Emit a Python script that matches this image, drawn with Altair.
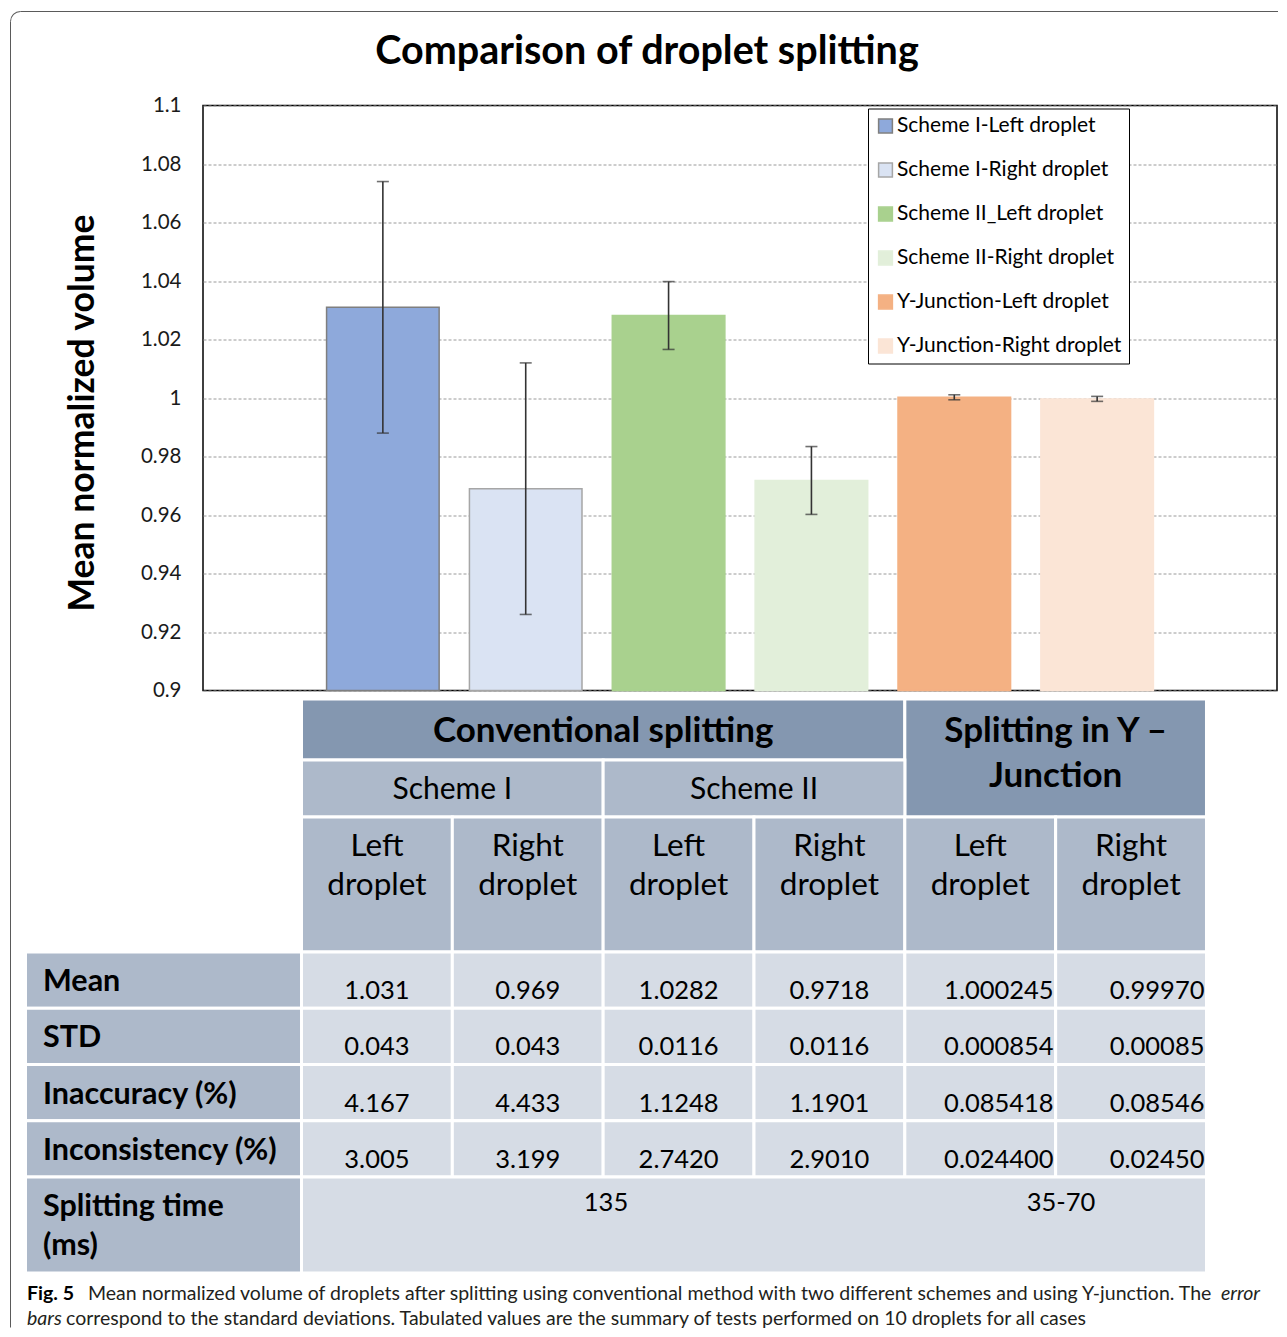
import altair as alt
import pandas as pd

# ---------------- data ----------------
bar_labels = ["Scheme I-Left droplet", "Scheme I-Right droplet", "Scheme II_Left droplet",
              "Scheme II-Right droplet", "Y-Junction-Left droplet", "Y-Junction-Right droplet"]
means = [1.031, 0.969, 1.0282, 0.9718, 1.000245, 0.99970]
stds = [0.043, 0.043, 0.0116, 0.0116, 0.000854, 0.00085]
fill_colors = ["#8EA9DB", "#DAE3F3", "#A9D18E", "#E2EFDA", "#F4B183", "#FBE5D6"]
stroke_colors = ["#7F7F7F", "#A6A6A6", "#A9D18E", "#E2EFDA", "#F4B183", "#FBE5D6"]
y_ticks = [0.9, 0.92, 0.94, 0.96, 0.98, 1.0, 1.02, 1.04, 1.06, 1.08, 1.1]

group_headers = ["Conventional splitting", "Splitting in Y \u2013\nJunction"]
scheme_headers = ["Scheme I", "Scheme II"]
col_headers = ["Left\ndroplet", "Right\ndroplet"] * 3
row_labels = ["Mean", "STD", "Inaccuracy (%)", "Inconsistency (%)", "Splitting time\n(ms)"]
table_values = [
    ["1.031", "0.969", "1.0282", "0.9718", "1.000245", "0.99970"],
    ["0.043", "0.043", "0.0116", "0.0116", "0.000854", "0.00085"],
    ["4.167", "4.433", "1.1248", "1.1901", "0.085418", "0.08546"],
    ["3.005", "3.199", "2.7420", "2.9010", "0.024400", "0.02450"],
]
split_time = ["135", "35-70"]

title_text = "Comparison of droplet splitting"
y_title = "Mean normalized volume"
cap_bold = "Fig. 5"
cap_line1 = ("Mean normalized volume of droplets after splitting using conventional method "
             "with two different schemes and using Y-junction. The")
cap_it1 = "error"
cap_it2 = "bars"
cap_line2 = ("correspond to the standard deviations. Tabulated values are the summary of tests "
             "performed on 10 droplets for all cases")

FONT = "Lato"

# ---------------- layout (page pixels, mapped by layout scales) ----------------
W, H = 1074, 585
PX0, PY0 = 203, 105
LX = alt.Scale(domain=[PX0, PX0 + W], nice=False, zero=False)
LY = alt.Scale(domain=[PY0, PY0 + H], nice=False, zero=False, reverse=True)

col_w = 150.83
col_edges = [301.5 + col_w * i for i in range(7)]
label_left = 25.5
row_edges = [698.5, 759.5, 816.5, 951.5, 1007.75, 1064.0, 1120.25, 1176.5, 1272.5]

DARK, MID, LIGHT = "#8497B0", "#ADB9CA", "#D6DCE5"

cells = []
def cell(x0, x1, y0, y1, tone):
    cells.append(dict(x0=x0, x1=x1, y0=y0, y1=y1, tone=tone))

cell(col_edges[0], col_edges[4], row_edges[0], row_edges[1], DARK)
cell(col_edges[4], col_edges[6], row_edges[0], row_edges[2], DARK)
cell(col_edges[0], col_edges[2], row_edges[1], row_edges[2], MID)
cell(col_edges[2], col_edges[4], row_edges[1], row_edges[2], MID)
for i in range(6):
    cell(col_edges[i], col_edges[i + 1], row_edges[2], row_edges[3], MID)
for r in range(4):
    cell(label_left, col_edges[0], row_edges[3 + r], row_edges[4 + r], MID)
    for i in range(6):
        cell(col_edges[i], col_edges[i + 1], row_edges[3 + r], row_edges[4 + r], LIGHT)
cell(label_left, col_edges[0], row_edges[7], row_edges[8], MID)
cell(col_edges[0], col_edges[6], row_edges[7], row_edges[8], LIGHT)
cells_df = pd.DataFrame(cells)

def mid(a, b):
    return (a + b) / 2

# text groups (multi-line texts are anchored at their first line)
big_hdr = pd.DataFrame([
    dict(x=mid(col_edges[0], col_edges[4]), y=730, t=group_headers[0]),
    dict(x=mid(col_edges[4], col_edges[6]), y=730, t=group_headers[1]),
])
scheme_df = pd.DataFrame([
    dict(x=mid(col_edges[0], col_edges[2]), y=789, t=scheme_headers[0]),
    dict(x=mid(col_edges[2], col_edges[4]), y=789, t=scheme_headers[1]),
])
colhdr_df = pd.DataFrame([
    dict(x=mid(col_edges[i], col_edges[i + 1]), y=846, t=col_headers[i]) for i in range(6)
])
rowlab_df = pd.DataFrame(
    [dict(x=43, y=mid(row_edges[3 + r], row_edges[4 + r]) + 2, t=row_labels[r]) for r in range(4)]
    + [dict(x=43, y=1206, t=row_labels[4])]
)
val_center = pd.DataFrame([
    dict(x=mid(col_edges[i], col_edges[i + 1]), y=mid(row_edges[3 + r], row_edges[4 + r]) + 11,
         t=table_values[r][i])
    for r in range(4) for i in range(4)
] + [
    dict(x=606, y=1202, t=split_time[0]),
    dict(x=1061, y=1202, t=split_time[1]),
])
val_right = pd.DataFrame([
    dict(x=col_edges[i + 1] - 2, y=mid(row_edges[3 + r], row_edges[4 + r]) + 11, t=table_values[r][i])
    for r in range(4) for i in range(4, 6)
])

# ---------------- bar chart ----------------
bars_df = pd.DataFrame({
    "label": bar_labels,
    "mean": means,
    "lo": [m - s for m, s in zip(means, stds)],
    "hi": [m + s for m, s in zip(means, stds)],
})

xband = alt.Scale(domain=bar_labels, paddingInner=0.212, paddingOuter=0.865)
yscale = alt.Scale(domain=[0.9, 1.1], nice=False, zero=False)

base = alt.Chart(bars_df)
bars = base.mark_bar(strokeWidth=1.5).encode(
    x=alt.X("label:N", scale=xband, axis=None, sort=bar_labels),
    y=alt.Y("mean:Q", scale=yscale,
            axis=alt.Axis(values=y_ticks, format="~g", title=y_title, grid=True,
                          gridDash=[3, 2], gridColor="#9A9A9A", gridWidth=1,
                          ticks=False, domain=False, labelPadding=22, labelFontSize=20.5,
                          labelColor="#1a1a1a", labelFont=FONT,
                          titleFont=FONT, titleFontSize=35.5, titleFontWeight="bold",
                          titleColor="black", titleAngle=-90, titleBaseline="middle",
                          titleAlign="center", titleX=82 - PX0, titleY=412 - PY0)),
    y2=alt.datum(0.9),
    fill=alt.Fill("label:N", scale=alt.Scale(domain=bar_labels, range=fill_colors),
                  legend=alt.Legend(title=None, orient="none", legendX=665, legendY=3,
                                    fillColor="white", strokeColor="black", padding=7,
                                    symbolType="square", symbolSize=190, symbolStrokeWidth=1.5,
                                    labelFontSize=21, labelFont=FONT, labelColor="black",
                                    rowPadding=22, labelOffset=1, labelLimit=400)),
    stroke=alt.Stroke("label:N", scale=alt.Scale(domain=bar_labels, range=stroke_colors)),
)
err = base.mark_rule(color="#333333", strokeWidth=1.6).encode(
    x=alt.X("label:N", scale=xband, axis=None, sort=bar_labels),
    y=alt.Y("lo:Q", scale=yscale),
    y2="hi:Q",
)
caps = base.transform_fold(["lo", "hi"], as_=["end", "v"]).mark_tick(
    color="#333333", thickness=1.6, size=12
).encode(
    x=alt.X("label:N", scale=xband, axis=None, sort=bar_labels),
    y=alt.Y("v:Q", scale=yscale),
)
data_layer = alt.layer(bars, err, caps)

# ---------------- table / title / caption / frame ----------------
def rect_layer(tone):
    return alt.Chart(cells_df[cells_df.tone == tone]).mark_rect(
        fill=tone, stroke="white", strokeWidth=3
    ).encode(
        x=alt.X("x0:Q", scale=LX, axis=None), x2="x1:Q",
        y=alt.Y("y0:Q", scale=LY, axis=None), y2="y1:Q",
    )

def text_layer(df, **kw):
    props = dict(font=FONT, color="black", baseline="middle", lineBreak="\n")
    props.update(kw)
    return alt.Chart(df).mark_text(**props).encode(
        x=alt.X("x:Q", scale=LX, axis=None),
        y=alt.Y("y:Q", scale=LY, axis=None),
        text="t:N",
    )

CAP_Y1, CAP_Y2, CAP_FS = 1293, 1318, 19.5
title_df = pd.DataFrame([dict(x=647, y=51, t=title_text)])
cap1a = pd.DataFrame([dict(x=27, y=CAP_Y1, t=cap_bold)])
cap1b = pd.DataFrame([dict(x=88, y=CAP_Y1, t=cap_line1)])
cap1c = pd.DataFrame([dict(x=1260, y=CAP_Y1, t=cap_it1)])
cap2a = pd.DataFrame([dict(x=27, y=CAP_Y2, t=cap_it2)])
cap2b = pd.DataFrame([dict(x=66, y=CAP_Y2, t=cap_line2)])

FRAME = "#5A5A5A"
frame_top = pd.DataFrame([dict(x0=20.5, x1=1278, y=11)])
frame_left = pd.DataFrame([dict(x=10.5, y0=21, y1=1327)])
frame_corner = pd.DataFrame([dict(x=20.5, y=21)])

CAPC = "#231f20"
layout_layers = [
    rect_layer(DARK), rect_layer(MID), rect_layer(LIGHT),
    text_layer(big_hdr, fontSize=35, fontWeight="bold", align="center", lineHeight=45),
    text_layer(scheme_df, fontSize=30, align="center"),
    text_layer(colhdr_df, fontSize=31.5, align="center", lineHeight=39),
    text_layer(rowlab_df, fontSize=30.5, fontWeight="bold", align="left", lineHeight=39),
    text_layer(val_center, fontSize=25.5, align="center"),
    text_layer(val_right, fontSize=25.5, align="right"),
    text_layer(title_df, fontSize=39.5, fontWeight="bold", align="center"),
    text_layer(cap1a, fontSize=CAP_FS, fontWeight="bold", align="left"),
    text_layer(cap1b, fontSize=CAP_FS, align="left", color=CAPC),
    text_layer(cap1c, fontSize=CAP_FS, fontStyle="italic", align="right", color=CAPC),
    text_layer(cap2a, fontSize=CAP_FS, fontStyle="italic", align="left", color=CAPC),
    text_layer(cap2b, fontSize=CAP_FS, align="left", color=CAPC),
    alt.Chart(frame_top).mark_rule(color=FRAME, strokeWidth=1).encode(
        x=alt.X("x0:Q", scale=LX, axis=None), x2="x1:Q",
        y=alt.Y("y:Q", scale=LY, axis=None)),
    alt.Chart(frame_left).mark_rule(color=FRAME, strokeWidth=1).encode(
        x=alt.X("x:Q", scale=LX, axis=None),
        y=alt.Y("y0:Q", scale=LY, axis=None), y2="y1:Q"),
    alt.Chart(frame_corner).mark_arc(color=FRAME, radius=10.5, radius2=9.5,
                                     theta=4.712389, theta2=6.283185).encode(
        x=alt.X("x:Q", scale=LX, axis=None),
        y=alt.Y("y:Q", scale=LY, axis=None)),
]
layout_layer = alt.layer(*layout_layers)

chart = alt.layer(data_layer, layout_layer).resolve_scale(
    x="independent", y="independent"
).properties(
    width=W, height=H,
    padding={"left": 2, "top": 2.5, "right": 0, "bottom": 0},
).configure(font=FONT).configure_view(stroke="black", strokeWidth=1.5)

chart.save("out.html", embed_options={"renderer": "svg", "actions": False})
